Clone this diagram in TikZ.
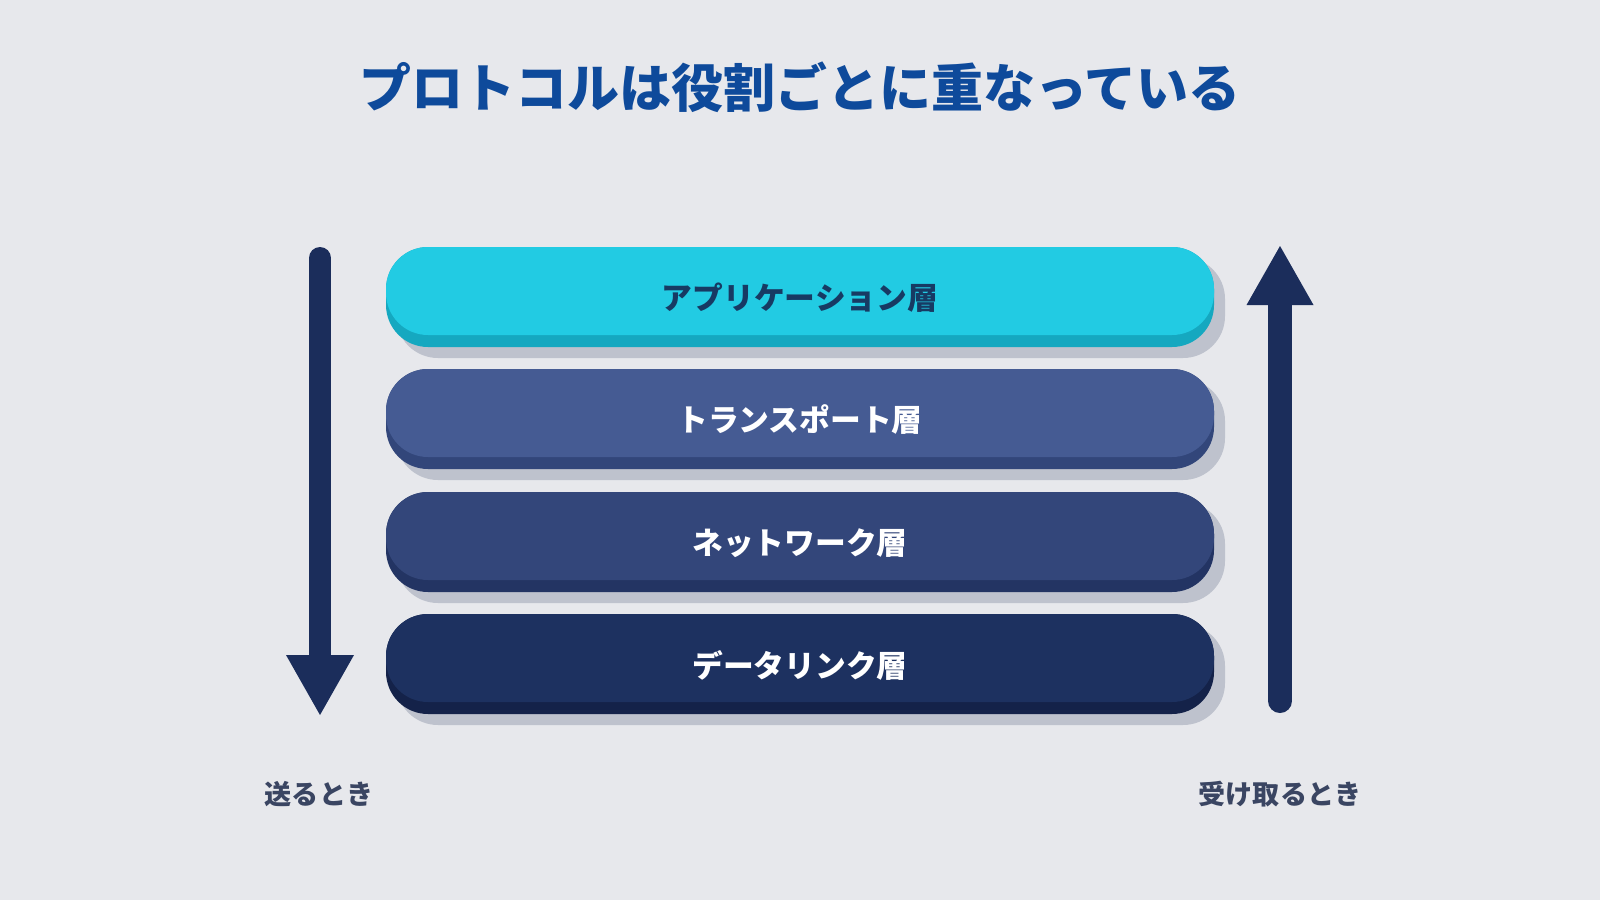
\documentclass[tikz,border=0pt]{standalone}
\usepackage{fontspec}
\usepackage{xcolor}
\setmainfont{Noto Sans CJK JP}

\definecolor{bgcol}{HTML}{E7E8EC}
\definecolor{titlecol}{HTML}{0E4A9B}
\definecolor{arrowcol}{HTML}{1B2D5B}
\definecolor{labelcol}{HTML}{3A4562}
\definecolor{shadowcol}{HTML}{BEC2CD}
\definecolor{appface}{HTML}{22CBE3}
\definecolor{appedge}{HTML}{15A8C0}
\definecolor{apptext}{HTML}{173A63}
\definecolor{transface}{HTML}{455B93}
\definecolor{transedge}{HTML}{32467A}
\definecolor{netface}{HTML}{33467A}
\definecolor{netedge}{HTML}{233463}
\definecolor{linkface}{HTML}{1D3160}
\definecolor{linkedge}{HTML}{142249}

\begin{document}
\begin{tikzpicture}[x=1cm, y=1cm]
        % Define the canvas
        \fill[bgcol] (0,0) rectangle (16,9);
        \useasboundingbox (0,0) rectangle (16,9);

        \node[text=titlecol, font=\fontsize{14.8}{17}\selectfont\bfseries] (title) at (8,8.13) {プロトコルは役割ごとに重なっている};

        % Draw the four layers, top to bottom
        \foreach \name/\top/\face/\edge/\txt/\layer in {
            app/6.53/appface/appedge/apptext/アプリケーション層,
            trans/5.31/transface/transedge/white/トランスポート層,
            net/4.08/netface/netedge/white/ネットワーク層,
            link/2.86/linkface/linkedge/white/データリンク層} {
            \fill[shadowcol, rounded corners=0.42cm] (3.96,\top-1.11) rectangle (12.25,\top-0.1);
            \fill[\edge, rounded corners=0.42cm] (3.86,\top-1.0) rectangle (12.14,\top);
            \fill[\face, rounded corners=0.42cm] (3.86,\top-0.88) rectangle (12.14,\top);
            \node[text=\txt, font=\fontsize{8.75}{10}\selectfont\bfseries] (\name) at (8,\top-0.51) {\layer};
        }

        % Sending arrow (down)
        \coordinate (S0) at (3.20,6.42);
        \coordinate (S1) at (3.20,2.45);
        \coordinate (S2) at (3.20,1.85);
        \draw[arrowcol, line width=0.22cm, line cap=round] (S0) -- ([yshift=-0.15cm]S1);
        \fill[arrowcol] ([xshift=-0.34cm]S1) -- ([xshift=0.34cm]S1) -- (S2) -- cycle;

        % Receiving arrow (up)
        \coordinate (R0) at (12.80,1.99);
        \coordinate (R1) at (12.80,5.95);
        \coordinate (R2) at (12.80,6.54);
        \draw[arrowcol, line width=0.24cm, line cap=round] (R0) -- ([yshift=0.15cm]R1);
        \fill[arrowcol] ([xshift=-0.335cm]R1) -- ([xshift=0.335cm]R1) -- (R2) -- cycle;

        \node[text=labelcol, font=\fontsize{7.7}{9}\selectfont\bfseries] (send) at (3.19,1.06) {送るとき};
        \node[text=labelcol, font=\fontsize{7.7}{9}\selectfont\bfseries] (recv) at (12.80,1.06) {受け取るとき};
    \end{tikzpicture}
\end{document}
